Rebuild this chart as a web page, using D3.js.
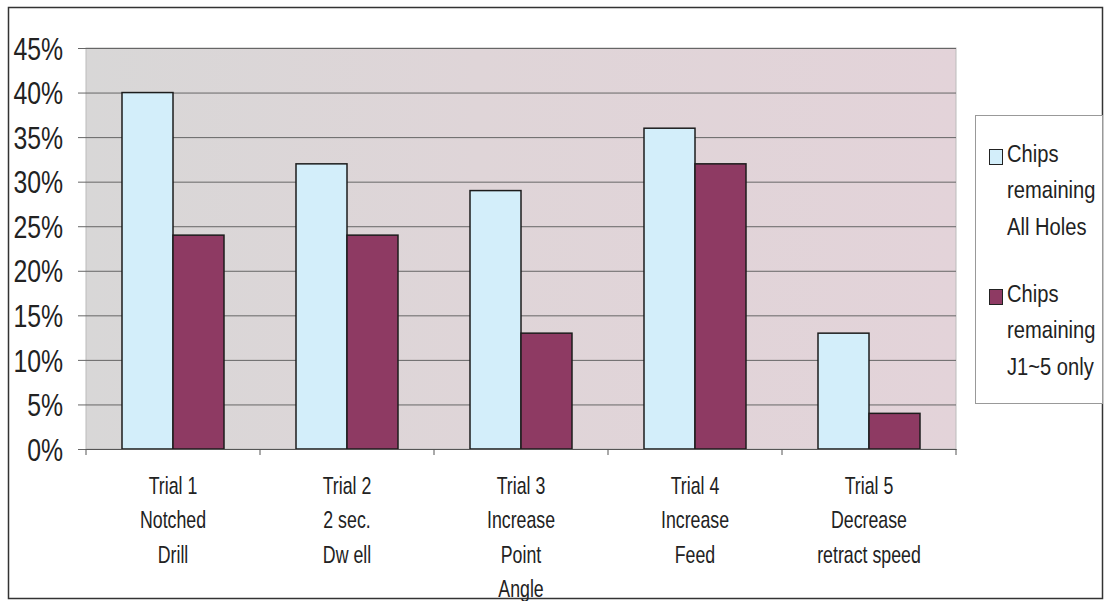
<!DOCTYPE html>
<html>
<head>
<meta charset="utf-8">
<script src="https://cdn.jsdelivr.net/npm/d3@7"></script>
<style>
  body { margin: 0; background: #fff; }
  text { font-family: "Liberation Sans", Arial, sans-serif; fill: #222; }
</style>
</head>
<body>
<script>
var trials = ["Trial 1", "Trial 2", "Trial 3", "Trial 4", "Trial 5"];
var trialLabels = [
    ["Trial 1", "Notched", "Drill"],
    ["Trial 2", "2 sec.", "Dw ell"],
    ["Trial 3", "Increase", "Point", "Angle"],
    ["Trial 4", "Increase", "Feed"],
    ["Trial 5", "Decrease", "retract speed"]
];
var seriesNames = ["All Holes", "J1~5 only"];
var allHoles = [0.40, 0.32, 0.29, 0.36, 0.13];
var j15Only = [0.24, 0.24, 0.13, 0.32, 0.04];
var yTicks = [0, 0.05, 0.10, 0.15, 0.20, 0.25, 0.30, 0.35, 0.40, 0.45];
var legendLabels = [
    ["Chips", "remaining", "All Holes"],
    ["Chips", "remaining", "J1~5 only"]
];

var width = 1106, height = 601;
var colors = ["#d3eefa", "#8e3a63"];
var narrowY = 0.8, narrowX = 0.74, narrowL = 0.84;

var svg = d3.select("body")
    .append("svg")
    .attr("width", width)
    .attr("height", height);

// outer frame
svg.append("rect")
    .attr("x", 8.5).attr("y", 7.5)
    .attr("width", 1094).attr("height", 591)
    .attr("fill", "#fff")
    .attr("stroke", "#333")
    .attr("stroke-width", 1.5);

var plot = {left: 86, right: 956, top: 48, bottom: 449};

var x0 = d3.scaleBand()
    .domain(trials)
    .range([plot.left, plot.right])
    .padding(0);

var x1 = d3.scaleBand()
    .domain(seriesNames)
    .range([0, x0.bandwidth()])
    .paddingInner(0)
    .paddingOuter(0.706);

var y = d3.scaleLinear()
    .domain([0, 0.45])
    .range([plot.bottom, plot.top]);

// plot background
var defs = svg.append("defs");
var grad = defs.append("linearGradient").attr("id", "bg");
grad.append("stop").attr("offset", "0%").attr("stop-color", "#d8d7d7");
grad.append("stop").attr("offset", "45%").attr("stop-color", "#dfd5d8");
grad.append("stop").attr("offset", "100%").attr("stop-color", "#e3d3d9");

svg.append("rect")
    .attr("x", plot.left).attr("y", plot.top)
    .attr("width", plot.right - plot.left)
    .attr("height", plot.bottom - plot.top)
    .attr("fill", "url(#bg)")
    .attr("stroke", "#bbb");

// gridlines + y axis
var yAxis = d3.axisLeft(y)
    .tickValues(yTicks)
    .tickFormat(d3.format(".0%"))
    .tickSize(-(plot.right - plot.left));

var yg = svg.append("g")
    .attr("transform", "translate(" + plot.left + ",0)")
    .call(yAxis);
yg.select(".domain").remove();
yg.selectAll(".tick line")
    .attr("x1", -8)
    .attr("stroke", "#666");
yg.selectAll(".tick text")
    .attr("font-size", 31)
    .attr("x", -23 / narrowY)
    .attr("dy", "0.36em")
    .attr("transform", "scale(" + narrowY + ",1)")
    .style("font-family", "'Liberation Sans', Arial, sans-serif")
    .attr("fill", "#222");

// bars
var group = svg.selectAll(".trial")
    .data(trials)
    .enter()
    .append("g")
    .attr("class", "trial")
    .attr("transform", function(d) { return "translate(" + x0(d) + ",0)"; });

group.selectAll("rect")
    .data(function(d, i) {
        return [
            {key: seriesNames[0], value: allHoles[i]},
            {key: seriesNames[1], value: j15Only[i]}
        ];
    })
    .enter()
    .append("rect")
    .attr("x", function(d) { return x1(d.key); })
    .attr("y", function(d) { return y(d.value); })
    .attr("width", x1.bandwidth())
    .attr("height", function(d) { return y(0) - y(d.value); })
    .attr("fill", function(d, i) { return colors[i]; })
    .attr("stroke", "#1c1c1c")
    .attr("stroke-width", 1.5);

// x axis
var xAxis = d3.axisBottom(x0).tickSize(0).tickFormat("");
svg.append("g")
    .attr("transform", "translate(0," + plot.bottom + ")")
    .call(xAxis)
    .select(".domain")
    .attr("stroke", "#555");

var xTickPos = trials.map(function(d) { return x0(d); }).concat([plot.right]);
svg.selectAll(".xtick")
    .data(xTickPos)
    .enter()
    .append("line")
    .attr("x1", function(d) { return d; })
    .attr("x2", function(d) { return d; })
    .attr("y1", plot.bottom)
    .attr("y2", plot.bottom + 6)
    .attr("stroke", "#555");

// category labels
var lab = svg.selectAll(".xlab")
    .data(trialLabels)
    .enter()
    .append("text")
    .attr("class", "xlab")
    .attr("text-anchor", "middle")
    .attr("font-size", 24)
    .attr("transform", function(d, i) {
        return "translate(" + (x0(trials[i]) + x0.bandwidth() / 2) + ",0) scale(" + narrowX + ",1)";
    });

lab.selectAll("tspan")
    .data(function(d) { return d; })
    .enter()
    .append("tspan")
    .attr("x", 0)
    .attr("y", function(d, i) { return 494 + i * 34.5; })
    .text(function(d) { return d; });

// legend
svg.append("rect")
    .attr("x", 975.5).attr("y", 115.5)
    .attr("width", 127).attr("height", 288)
    .attr("fill", "#fff")
    .attr("stroke", "#999");

var legend = svg.selectAll(".legend")
    .data(legendLabels)
    .enter()
    .append("g")
    .attr("class", "legend")
    .attr("transform", function(d, i) { return "translate(989," + (i === 0 ? 162 : 302) + ")"; });

legend.append("rect")
    .attr("x", 0.5).attr("y", -12.5)
    .attr("width", 13).attr("height", 15)
    .attr("fill", function(d, i) { return colors[i]; })
    .attr("stroke", "#222");

legend.append("text")
    .attr("font-size", 24)
    .attr("transform", "translate(18,0) scale(" + narrowL + ",1)")
    .selectAll("tspan")
    .data(function(d) { return d; })
    .enter()
    .append("tspan")
    .attr("x", 0)
    .attr("y", function(d, i) { return i * 36.5; })
    .text(function(d) { return d; });
</script>
</body>
</html>
